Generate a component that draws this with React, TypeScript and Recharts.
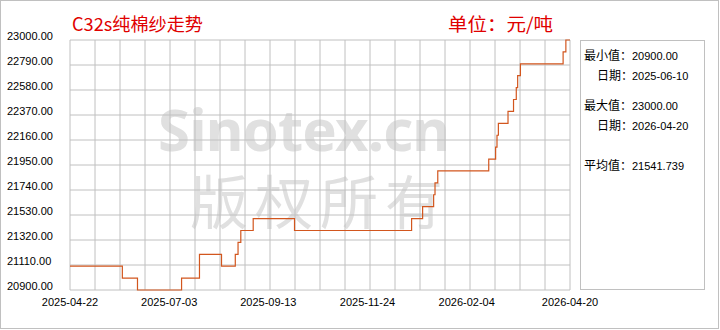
import { CartesianGrid, Line, LineChart, XAxis, YAxis } from "recharts";

// day offsets from 2025-04-22 where the price changes, and the price from that day on
const changeDays = [0, 38, 49, 81, 94, 110, 120, 122, 124, 133, 163, 248, 256, 264, 265, 267, 304, 309, 310, 311, 318, 322, 324, 325, 327, 358, 360, 363];
const prices = [21100, 21000, 20900, 21000, 21200, 21100, 21200, 21300, 21400, 21500, 21400, 21500, 21600, 21700, 21800, 21900, 22000, 22100, 22200, 22300, 22400, 22500, 22600, 22700, 22800, 22900, 23000, 23000];

const xTickDays = [0, 72, 144, 216, 288, 363];
const xTickLabels = ["2025-04-22", "2025-07-03", "2025-09-13", "2025-11-24", "2026-02-04", "2026-04-20"];
const yTicks = [20900, 21110, 21320, 21530, 21740, 21950, 22160, 22370, 22580, 22790, 23000];

const statLabels = ["最小值：", "日期：", "最大值：", "日期：", "平均值："];
const statValues = ["20900.00", "2025-06-10", "23000.00", "2026-04-20", "21541.739"];

const W = 720;
const H = 330;
const LINE = "#d2561e";
const GRID = "#c0c0c0";
const NUM_FONT = "'Liberation Sans', Arial, sans-serif";
const CJK_FONT = "'Noto Sans CJK SC', sans-serif";

const data = changeDays.map((d, i) => ({ day: d, price: prices[i] }));

function XTick({ x, y, payload }: any) {
  const idx = xTickDays.indexOf(payload.value);
  return (
    <text x={x} y={y + 8} textAnchor="middle" fontSize={11} fontFamily={NUM_FONT} fill="#000">
      {xTickLabels[idx] ?? ""}
    </text>
  );
}

function YTick({ y, payload }: any) {
  return (
    <text x={7} y={y} textAnchor="start" fontSize={11} fontFamily={NUM_FONT} fill="#000">
      {Number(payload.value).toFixed(2)}
    </text>
  );
}

// rows of the stats box: [label x, baseline y]
const statRows: [number, number][] = [
  [584, 60],
  [597, 80],
  [584, 110],
  [597, 130],
  [584, 170],
];

export default function App() {
  return (
    <div style={{ position: "absolute", left: 0, top: 0, width: W, height: H, background: "#fff" }}>
      {/* watermark, behind the chart */}
      <svg width={W} height={H} style={{ position: "absolute", left: 0, top: 0 }}>
        <text x={158} y={151} fontSize={58} fontWeight="bold" fontFamily="'Noto Sans', sans-serif" fill="#e0e0e0" textLength={292} lengthAdjust="spacing">
          Sinotex.cn
        </text>
        <text x={190} y={224} fontSize={58} fontFamily={CJK_FONT} fill="#e0e0e0" textLength={253} lengthAdjust="spacing">
          版权所有
        </text>
      </svg>
      <div style={{ position: "absolute", left: 0, top: 0 }}>
        <LineChart width={W} height={H} data={data} margin={{ top: 40, right: 150, bottom: 0, left: 0 }}>
          <CartesianGrid
            stroke={GRID}
            strokeWidth={1}
            verticalCoordinatesGenerator={({ offset }: any) =>
              Array.from({ length: 21 }, (_, i) => offset.left + (offset.width * i) / 20)
            }
          />
          <XAxis
            type="number"
            dataKey="day"
            domain={[0, 363]}
            ticks={xTickDays}
            height={40}
            axisLine={false}
            tickLine={false}
            interval={0}
            tick={<XTick />}
          />
          <YAxis
            type="number"
            domain={[20900, 23000]}
            ticks={yTicks}
            width={70}
            axisLine={false}
            tickLine={false}
            interval={0}
            tick={<YTick />}
          />
          <Line
            type="stepAfter"
            dataKey="price"
            stroke={LINE}
            strokeWidth={1.2}
            dot={false}
            isAnimationActive={false}
          />
        </LineChart>
      </div>
      {/* titles, stats box, frame */}
      <svg width={W} height={H} style={{ position: "absolute", left: 0, top: 0, pointerEvents: "none" }}>
        <rect x={0.5} y={0.5} width={718} height={328} fill="none" stroke={GRID} />
        <text x={72} y={31} fontSize={18} fontFamily={CJK_FONT} fill="#e00000" textLength={131} lengthAdjust="spacingAndGlyphs">
          C32s纯棉纱走势
        </text>
        <text x={448} y={31} fontSize={18} fontFamily={CJK_FONT} fill="#e00000" textLength={105} lengthAdjust="spacingAndGlyphs">
          单位：元/吨
        </text>
        <rect x={580.5} y={40.5} width={124} height={249} fill="#fff" stroke={GRID} />
        {statRows.map(([lx, by], i) => (
          <g key={i}>
            <text x={lx} y={by} fontSize={12} fontFamily={CJK_FONT} fill="#000">
              {statLabels[i]}
            </text>
            <text x={632} y={by} fontSize={11} fontFamily={NUM_FONT} fill="#000">
              {statValues[i]}
            </text>
          </g>
        ))}
      </svg>
    </div>
  );
}
